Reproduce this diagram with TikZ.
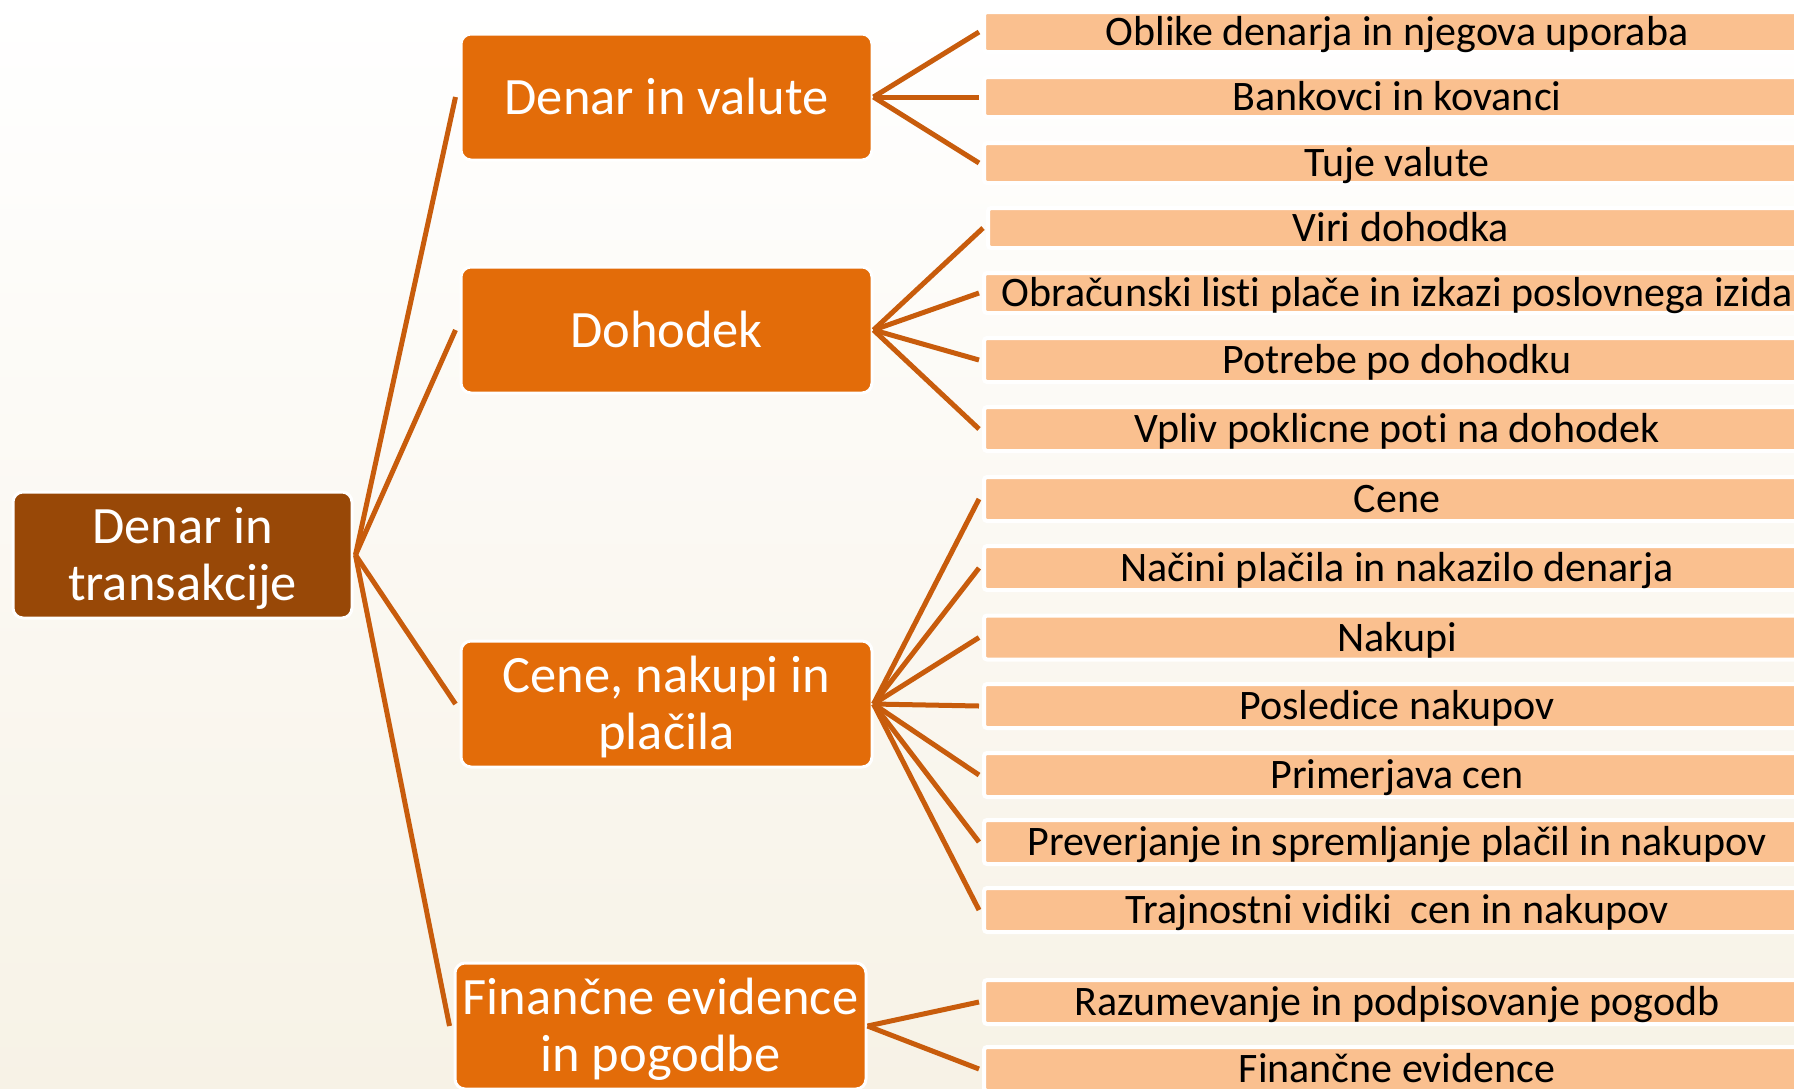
\documentclass[tikz,border=0pt]{standalone}
\usepackage{fontspec}
\setmainfont{Carlito}[Ligatures=NoCommon]
\definecolor{rootc}{RGB}{152,72,7}
\definecolor{midc}{RGB}{227,108,9}
\definecolor{leafc}{RGB}{250,192,143}
\definecolor{linec}{RGB}{200,92,12}
\definecolor{bgbot}{RGB}{247,242,230}
\begin{document}
\begin{tikzpicture}[x=1pt,y=-1pt,
  bigbox/.style={draw=white, line width=3pt, rounded corners=10pt,
    minimum height=126pt, inner sep=0pt, text=white,
    font=\fontsize{52.5}{57.5}\selectfont, align=center,
    text height=34pt, text depth=0pt},
  rootbox/.style={bigbox, fill=rootc, minimum width=339pt},
  midbox/.style={bigbox, fill=midc, minimum width=411pt},
  twoline/.style={text height=91.5pt, text depth=0pt},
  leafbox/.style={draw=white, line width=4pt, fill=leafc, rounded corners=3pt,
    minimum width=826pt, minimum height=44pt, inner sep=0pt, anchor=west,
    font=\fontsize{42}{48}\selectfont, text height=27pt, text depth=0pt},
  thinleaf/.style={minimum height=40pt},
  conn/.style={draw=linec, line width=5pt}]
\useasboundingbox (0,0) rectangle (1794,1088);
\clip (0,0) rectangle (1794,1088);
\shade[top color=white, bottom color=bgbot] (0,0) rectangle (1794,1088);

% main nodes
\node[rootbox, twoline] (root) at (182.5,555) {Denar in\\transakcije};
\node[midbox] (m1) at (666.5,97) {Denar in valute};
\node[midbox] (m2) at (666.5,330) {Dohodek};
\node[midbox, twoline] (m3) at (666.5,704) {Cene, nakupi in\\plačila};
\node[midbox, twoline] (m4) at (660.5,1026) {Finančne evidence\\in pogodbe};

% leaves
\node[leafbox, thinleaf] (l1) at (982,32) {Oblike denarja in njegova uporaba};
\node[leafbox, thinleaf] (l2) at (982,97) {Bankovci in kovanci};
\node[leafbox, thinleaf] (l3) at (982,163) {Tuje valute};
\node[leafbox, thinleaf] (l4) at (986,228) {Viri dohodka};
\node[leafbox, thinleaf] (l5) at (982,293) {Obračunski listi plače in izkazi poslovnega izida};
\node[leafbox] (l6) at (982,360) {Potrebe po dohodku};
\node[leafbox] (l7) at (982,429) {Vpliv poklicne poti na dohodek};
\node[leafbox] (l8) at (982,499) {Cene};
\node[leafbox] (l9) at (982,568) {Načini plačila in nakazilo denarja};
\node[leafbox] (l10) at (982,637.5) {Nakupi};
\node[leafbox] (l11) at (982,706) {Posledice nakupov};
\node[leafbox] (l12) at (982,775) {Primerjava cen};
\node[leafbox] (l13) at (982,842) {Preverjanje in spremljanje plačil in nakupov};
\node[leafbox] (l14) at (982,910) {Trajnostni vidiki~ cen in nakupov};
\node[leafbox] (l15) at (982,1002) {Razumevanje in podpisovanje pogodb};
\node[leafbox] (l16) at (982,1069) {Finančne evidence};

% connectors
\foreach \m in {m1,m2,m3,m4}
  \draw[conn] ([xshift=2pt]root.east) -- ([xshift=-4pt]\m.west);
\foreach \l in {l1,l2,l3}
  \draw[conn] (m1.east) -- ([xshift=-3pt]\l.west);
\foreach \l in {l4,l5,l6,l7}
  \draw[conn] (m2.east) -- ([xshift=-3pt]\l.west);
\foreach \l in {l8,l9,l10,l11,l12,l13,l14}
  \draw[conn] (m3.east) -- ([xshift=-3pt]\l.west);
\foreach \l in {l15,l16}
  \draw[conn] (m4.east) -- ([xshift=-3pt]\l.west);
\end{tikzpicture}
\end{document}
